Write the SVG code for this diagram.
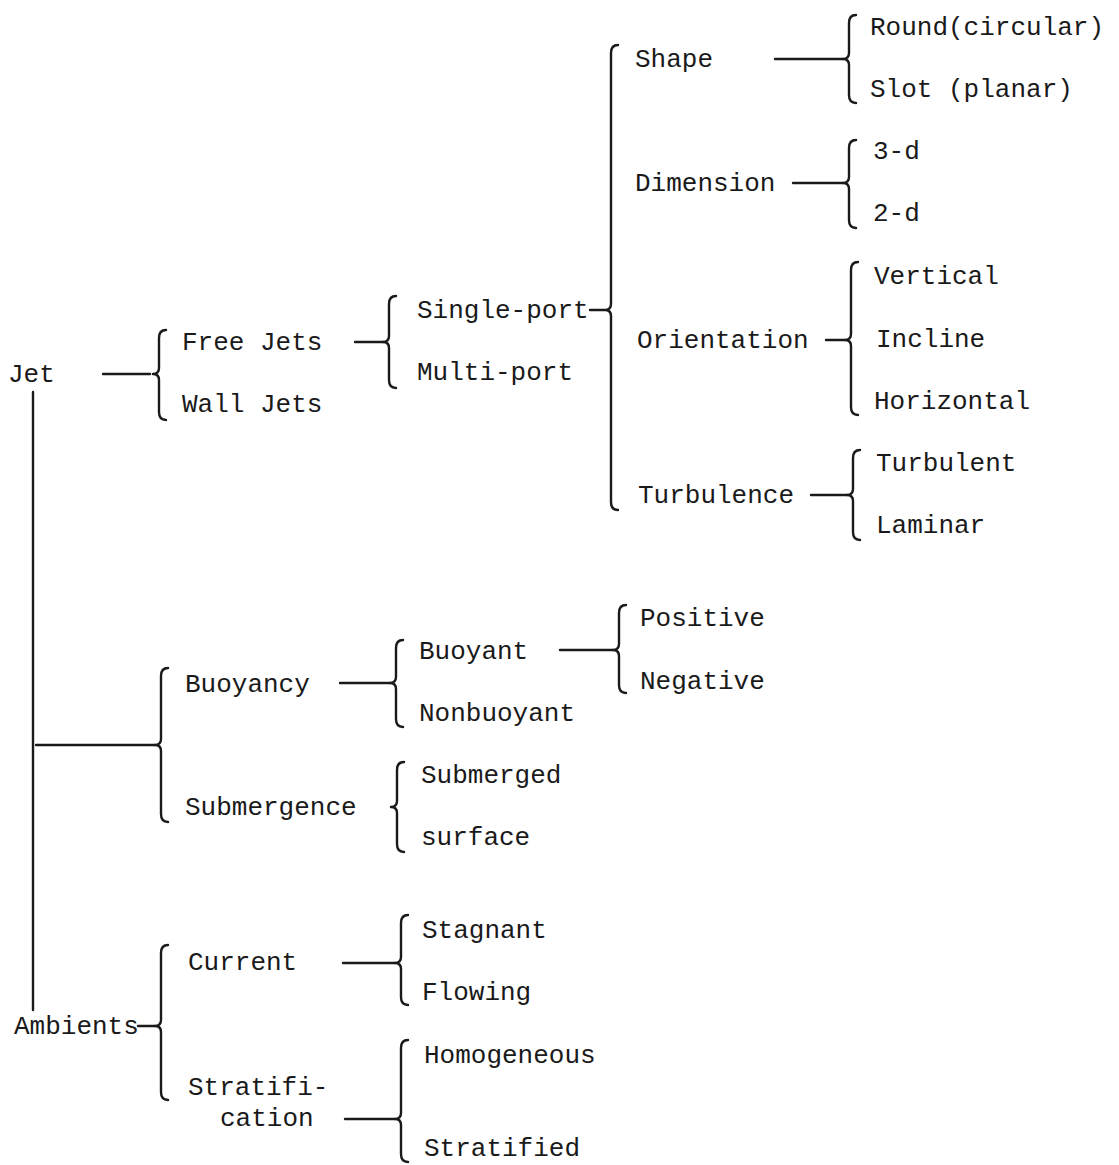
<svg xmlns="http://www.w3.org/2000/svg" width="1119" height="1165" viewBox="0 0 1119 1165">
<style>
text{font-family:"Liberation Mono","DejaVu Sans Mono",monospace;font-size:26px;fill:#1a1a1a}
.b,.c{fill:none;stroke:#1a1a1a;stroke-width:2.4;stroke-linejoin:round;stroke-linecap:round}
</style>
<rect width="1119" height="1165" fill="#fff"/>
<g id="connectors">
<path class="c" d="M33,392 V1010"/>
<path class="c" d="M103,374 H150"/>
<path class="c" d="M355,342 H383"/>
<path class="c" d="M590,310 H604"/>
<path class="c" d="M775,59 H843"/>
<path class="c" d="M793,183 H843"/>
<path class="c" d="M826,340 H845"/>
<path class="c" d="M811,495 H847"/>
<path class="c" d="M36,745 H155"/>
<path class="c" d="M340,683 H390"/>
<path class="c" d="M560,650 H613"/>
<path class="c" d="M138,1026 H155"/>
<path class="c" d="M343,963 H395"/>
<path class="c" d="M345,1119 H395"/>
<!-- braces -->
<path class="b" d="M166,330 Q159,330 159,338 V368 Q159,374 153,374 Q159,374 159,380 V412 Q159,420 166,420"/>
<path class="b" d="M396,296 Q389,296 389,304 V336 Q389,342 383,342 Q389,342 389,348 V380 Q389,388 396,388"/>
<path class="b" d="M618,45 Q611,45 611,53 V304 Q611,310 605,310 Q611,310 611,316 V502 Q611,510 618,510"/>
<path class="b" d="M856,15 Q849,15 849,23 V53 Q849,59 843,59 Q849,59 849,65 V95 Q849,103 856,103"/>
<path class="b" d="M856,140 Q849,140 849,148 V177 Q849,183 843,183 Q849,183 849,189 V220 Q849,228 856,228"/>
<path class="b" d="M858,262 Q851,262 851,270 V334 Q851,340 845,340 Q851,340 851,346 V407 Q851,415 858,415"/>
<path class="b" d="M860,450 Q853,450 853,458 V489 Q853,495 847,495 Q853,495 853,501 V532 Q853,540 860,540"/>
<path class="b" d="M168,668 Q161,668 161,676 V739 Q161,745 155,745 Q161,745 161,751 V814 Q161,822 168,822"/>
<path class="b" d="M403,640 Q396,640 396,648 V677 Q396,683 390,683 Q396,683 396,689 V719 Q396,727 403,727"/>
<path class="b" d="M626,605 Q619,605 619,613 V644 Q619,650 613,650 Q619,650 619,656 V685 Q619,693 626,693"/>
<path class="b" d="M404,762 Q397,762 397,770 V801 Q397,807 391,807 Q397,807 397,813 V844 Q397,852 404,852"/>
<path class="b" d="M168,945 Q161,945 161,953 V1020 Q161,1026 155,1026 Q161,1026 161,1032 V1092 Q161,1100 168,1100"/>
<path class="b" d="M408,915 Q401,915 401,923 V957 Q401,963 395,963 Q401,963 401,969 V997 Q401,1005 408,1005"/>
<path class="b" d="M408,1040 Q401,1040 401,1048 V1113 Q401,1119 395,1119 Q401,1119 401,1125 V1154 Q401,1162 408,1162"/>
</g>
<g id="n-jet"><text x="8" y="382">Jet</text></g>
<g id="n-freejets"><text x="182" y="350">Free Jets</text></g>
<g id="n-walljets"><text x="182" y="412">Wall Jets</text></g>
<g id="n-singleport"><text x="417" y="318">Single-port</text></g>
<g id="n-multiport"><text x="417" y="380">Multi-port</text></g>
<g id="n-shape"><text x="635" y="67">Shape</text></g>
<g id="n-dimension"><text x="635" y="191">Dimension</text></g>
<g id="n-orientation"><text x="637" y="348">Orientation</text></g>
<g id="n-turbulence"><text x="638" y="503">Turbulence</text></g>
<g id="n-round"><text x="870" y="35">Round(circular)</text></g>
<g id="n-slot"><text x="870" y="97">Slot (planar)</text></g>
<g id="n-3d"><text x="873" y="159">3-d</text></g>
<g id="n-2d"><text x="873" y="221">2-d</text></g>
<g id="n-vertical"><text x="874" y="284">Vertical</text></g>
<g id="n-incline"><text x="876" y="347">Incline</text></g>
<g id="n-horizontal"><text x="874" y="409">Horizontal</text></g>
<g id="n-turbulent"><text x="876" y="471">Turbulent</text></g>
<g id="n-laminar"><text x="876" y="533">Laminar</text></g>
<g id="n-buoyancy"><text x="185" y="692">Buoyancy</text></g>
<g id="n-submergence"><text x="185" y="815">Submergence</text></g>
<g id="n-buoyant"><text x="419" y="659">Buoyant</text></g>
<g id="n-nonbuoyant"><text x="419" y="721">Nonbuoyant</text></g>
<g id="n-positive"><text x="640" y="626">Positive</text></g>
<g id="n-negative"><text x="640" y="689">Negative</text></g>
<g id="n-submerged"><text x="421" y="783">Submerged</text></g>
<g id="n-surface"><text x="421" y="845">surface</text></g>
<g id="n-ambients"><text x="14" y="1034">Ambients</text></g>
<g id="n-current"><text x="188" y="970">Current</text></g>
<g id="n-stratification"><text x="188" y="1095">Stratifi-</text><text x="220" y="1126">cation</text></g>
<g id="n-stagnant"><text x="422" y="938">Stagnant</text></g>
<g id="n-flowing"><text x="422" y="1000">Flowing</text></g>
<g id="n-homogeneous"><text x="424" y="1063">Homogeneous</text></g>
<g id="n-stratified"><text x="424" y="1156">Stratified</text></g>
</svg>
